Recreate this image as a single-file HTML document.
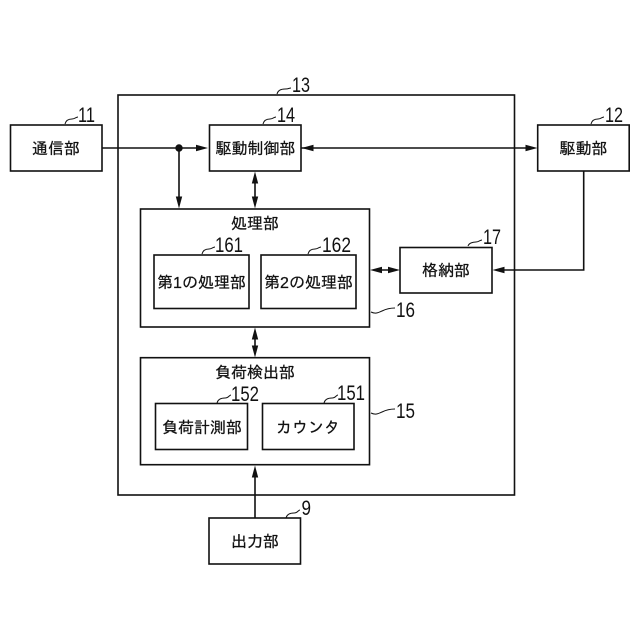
<!DOCTYPE html>
<html><head><meta charset="utf-8"><style>html,body{margin:0;padding:0;background:#fff}svg{display:block}
.j{font-family:"Liberation Sans","IPAGothic","Noto Sans CJK JP",sans-serif;font-size:16px;fill:#111;text-anchor:middle;stroke:#111;stroke-width:.25px}
.n{font-family:"Liberation Sans",sans-serif;font-size:21.5px;fill:#111}
</style></head><body>
<svg width="640" height="640" viewBox="0 0 640 640" xmlns="http://www.w3.org/2000/svg">
<rect width="640" height="640" fill="#fff"/>
<g fill="none" stroke="#111" stroke-width="1.6">
<rect x="118" y="95" width="396.5" height="400"/>
<rect x="10.5" y="125" width="91.5" height="46"/>
<rect x="209.5" y="125" width="91.5" height="46"/>
<rect x="537.7" y="125" width="91.5" height="46"/>
<rect x="400" y="247.5" width="92" height="45.500"/>
<rect x="140.5" y="209" width="229" height="118"/>
<rect x="154" y="255" width="95" height="53.500"/>
<rect x="261" y="255" width="95" height="53.500"/>
<rect x="140.5" y="357.7" width="229" height="107"/>
<rect x="155.5" y="403.5" width="92" height="46"/>
<rect x="262.5" y="403.5" width="91.5" height="46"/>
<rect x="209" y="518" width="91.500" height="46"/>
<path d="M102 148H200M179 148V197M255 181V199M301 148H528M583.7 171V270H503M380 270H390M255 337V348M255 518V476"/>
<g stroke-width="1">
<path d="M65 124c1-4 4-5 7-5s4-2 6-2M277 94c1-4 4-5 8-5s4-1 6-1M263 124c1-4 4-5 7-5s4-2 6-2M591 124c1-4 4-5 7-5s4-2 6-2M468 246c1-3 5-4 8-4s4-2 6-2M202 254c1-4 4-5 7-5s4-2 6-2M308 254c1-4 4-5 7-5s4-2 6-2M217 403c1-4 4-5 8-5s4-3 6-3M324 403c1-4 4-5 8-5s4-3 6-3M286 518c1-4 4-5 8-5s4-3 6-3M371 312c4 2 7 1 11-1s8-3 13-3M371 413c4 2 7 1 11-1s8-3 13-3"/>
</g>
</g>
<circle cx="179" cy="148" r="3.7" fill="#111"/>
<g fill="#111">
<path d="M208 148l-12-3.200v6.400zM179 208.500l-3.200-12h6.400zM301.500 148l12-3.200v6.400zM537.500 148l-12-3.200v6.400zM492.500 270l12-3.200v6.400z"/>
<path d="M255 171.500l-3.200 12h6.400zM255 208.500l-3.200-12h6.400zM370 270l12-3.200v6.400zM400 270l-12-3.200v6.400zM255 327.500l-3.200 12h6.400zM255 357.500l-3.200-12h6.400zM255 465.500l-3.200 12h6.400z"/>
</g>
<text class="j" x="56" y="154">通信部</text>
<text class="j" x="255.500" y="154">駆動制御部</text>
<text class="j" x="583.500" y="154">駆動部</text>
<text class="j" x="446" y="276">格納部</text>
<text class="j" x="255" y="229">処理部</text>
<text class="j" x="201.500" y="288">第1の処理部</text>
<text class="j" x="308.500" y="288">第2の処理部</text>
<text class="j" x="255" y="378">負荷検出部</text>
<text class="j" x="202" y="433">負荷計測部</text>
<text class="j" x="308" y="433">カウンタ</text>
<text class="j" x="255" y="547">出力部</text>
<text class="n" x="78" y="122" textLength="17" lengthAdjust="spacingAndGlyphs">11</text>
<text class="n" x="292" y="92" textLength="18" lengthAdjust="spacingAndGlyphs">13</text>
<text class="n" x="277" y="122" textLength="18" lengthAdjust="spacingAndGlyphs">14</text>
<text class="n" x="605" y="122" textLength="18" lengthAdjust="spacingAndGlyphs">12</text>
<text class="n" x="483" y="244" textLength="18" lengthAdjust="spacingAndGlyphs">17</text>
<text class="n" x="215" y="252" textLength="28" lengthAdjust="spacingAndGlyphs">161</text>
<text class="n" x="322" y="252" textLength="29" lengthAdjust="spacingAndGlyphs">162</text>
<text class="n" x="231" y="401" textLength="28" lengthAdjust="spacingAndGlyphs">152</text>
<text class="n" x="337" y="400" textLength="28" lengthAdjust="spacingAndGlyphs">151</text>
<text class="n" x="396" y="317" textLength="19" lengthAdjust="spacingAndGlyphs">16</text>
<text class="n" x="396" y="418" textLength="19" lengthAdjust="spacingAndGlyphs">15</text>
<text class="n" x="301.500" y="515" textLength="9.500" lengthAdjust="spacingAndGlyphs">9</text>
</svg>
</body></html>
